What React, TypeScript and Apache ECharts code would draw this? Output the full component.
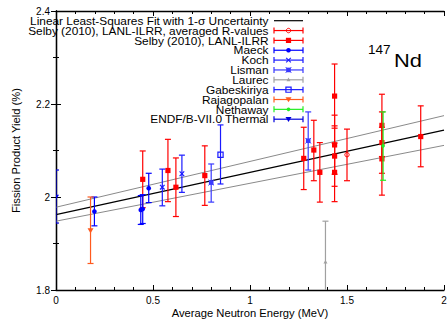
import React, { useEffect, useRef } from "react";
import * as echarts from "echarts";

// ---- data ----
const fitX = [0, 2];
const fitMid = [1.962, 2.144];
const fitUpper = [1.978, 2.175];
const fitLower = [1.948, 2.111];

// [energy, yield, low, high]
const selbyAvg = [[1.5, 2.091, 2.035, 2.146]];
const selby = [
  [0.447, 2.038, 1.977, 2.099],
  [0.577, 2.057, 1.99, 2.124],
  [0.618, 2.021, 1.958, 2.084],
  [0.767, 2.046, 1.982, 2.11],
  [1.277, 2.083, 2.016, 2.15],
  [1.329, 2.101, 2.035, 2.165],
  [1.36, 2.053, 1.989, 2.117],
  [1.436, 2.217, 2.148, 2.286],
  [1.436, 2.112, 2.049, 2.176],
  [1.436, 2.088, 2.023, 2.153],
  [1.436, 2.053, 1.99, 2.116],
  [1.68, 2.154, 2.087, 2.221],
  [1.68, 2.117, 2.051, 2.183],
  [1.68, 2.082, 2.004, 2.15],
  [1.88, 2.13, 2.065, 2.196],
];
const maeck = [
  [0.198, 1.969, 1.938, 2.0],
  [0.437, 1.972, 1.941, 2.003],
  [0.447, 1.974, 1.943, 2.005],
  [0.478, 2.019, 1.988, 2.051],
];
const koch = [
  [0.548, 2.021, 1.981, 2.06],
  [0.649, 2.05, 2.01, 2.09],
];
const lisman = [
  [0.8, 2.031, 1.989, 2.071],
  [1.3, 2.121, 2.058, 2.183],
];
const laurec = [[1.389, 1.86, 1.772, 1.948]];
const gabeskiriya = [[0.848, 2.091, 2.028, 2.155]];
const rajagopalan = [[0.178, 1.928, 1.857, 2.0]];
const nethaway = [[1.686, 2.11, 2.036, 2.183]];
const endf = [[0.0, 2.0, 1.944, 2.058]];

const xTicks = ["0", "0.5", "1", "1.5", "2"];
const yTicks = ["1.8", "2", "2.2", "2.4"];

const FONT = "Liberation Sans, Arial, sans-serif";

type Kind = "square" | "ocircle" | "circle" | "x" | "xsq" | "triUp" | "osq" | "triDown" | "dot" | "none";

const datasets: { name: string; data: number[][]; color: string; marker: Kind }[] = [
  { name: "Selby (2010), LANL-ILRR, averaged R-values", data: selbyAvg, color: "#ff0000", marker: "ocircle" },
  { name: "Selby (2010), LANL-ILRR", data: selby, color: "#ff0000", marker: "square" },
  { name: "Maeck", data: maeck, color: "#0000ff", marker: "circle" },
  { name: "Koch", data: koch, color: "#1a1aff", marker: "x" },
  { name: "Lisman", data: lisman, color: "#3a3aff", marker: "xsq" },
  { name: "Laurec", data: laurec, color: "#a0a0a0", marker: "triUp" },
  { name: "Gabeskiriya", data: gabeskiriya, color: "#1a1aff", marker: "osq" },
  { name: "Rajagopalan", data: rajagopalan, color: "#ff5a1e", marker: "triDown" },
  { name: "Nethaway", data: nethaway, color: "#22ee22", marker: "dot" },
  { name: "ENDF/B-VII.0 Thermal", data: endf, color: "#0000dd", marker: "triDown" },
];

function markerEls(kind: Kind, cx: number, cy: number, color: string): any[] {
  const s = 2.6;
  switch (kind) {
    case "square":
      return [{ type: "rect", shape: { x: cx - s, y: cy - s, width: 2 * s, height: 2 * s }, style: { fill: color } }];
    case "osq":
      return [{ type: "rect", shape: { x: cx - s, y: cy - s, width: 2 * s, height: 2 * s }, style: { fill: "none", stroke: color, lineWidth: 1.2 } }];
    case "circle":
      return [{ type: "circle", shape: { cx, cy, r: 2.3 }, style: { fill: color } }];
    case "dot":
      return [{ type: "circle", shape: { cx, cy, r: 1.8 }, style: { fill: color } }];
    case "ocircle":
      return [
        { type: "circle", shape: { cx, cy, r: 2.2 }, style: { fill: "none", stroke: color, lineWidth: 1 } },
      ];
    case "x":
      return [
        { type: "line", shape: { x1: cx - 2.3, y1: cy - 2.3, x2: cx + 2.3, y2: cy + 2.3 }, style: { stroke: color, lineWidth: 1.2 } },
        { type: "line", shape: { x1: cx - 2.3, y1: cy + 2.3, x2: cx + 2.3, y2: cy - 2.3 }, style: { stroke: color, lineWidth: 1.2 } },
      ];
    case "xsq":
      return [
        { type: "rect", shape: { x: cx - 2.3, y: cy - 2.3, width: 4.6, height: 4.6 }, style: { fill: color } },
        { type: "line", shape: { x1: cx - 2.8, y1: cy - 2.8, x2: cx + 2.8, y2: cy + 2.8 }, style: { stroke: color, lineWidth: 1 } },
        { type: "line", shape: { x1: cx - 2.8, y1: cy + 2.8, x2: cx + 2.8, y2: cy - 2.8 }, style: { stroke: color, lineWidth: 1 } },
      ];
    case "triUp":
      return [{ type: "polygon", shape: { points: [[cx, cy - 2.2], [cx - 2, cy + 1.5], [cx + 2, cy + 1.5]] }, style: { fill: color } }];
    case "triDown":
      return [{ type: "polygon", shape: { points: [[cx - 3, cy - 2.2], [cx + 3, cy - 2.2], [cx, cy + 2.8]] }, style: { fill: color } }];
    default:
      return [];
  }
}

function errRender(color: string, kind: Kind) {
  return (params: any, api: any) => {
    const x = api.value(0);
    const y = api.value(1);
    const lo = api.value(2);
    const hi = api.value(3);
    const p = api.coord([x, y]);
    const pl = api.coord([x, lo]);
    const ph = api.coord([x, hi]);
    const cs = params.coordSys;
    const top = cs.y;
    const bottom = cs.y + cs.height;
    const yl = Math.min(pl[1], bottom);
    const yh = Math.max(ph[1], top);
    const cap = 3;
    const ls = { stroke: color, lineWidth: 1.2 };
    const children: any[] = [
      { type: "line", shape: { x1: p[0], y1: yh, x2: p[0], y2: yl }, style: ls },
    ];
    if (ph[1] >= top) children.push({ type: "line", shape: { x1: p[0] - cap, y1: ph[1], x2: p[0] + cap, y2: ph[1] }, style: ls });
    if (pl[1] <= bottom) children.push({ type: "line", shape: { x1: p[0] - cap, y1: pl[1], x2: p[0] + cap, y2: pl[1] }, style: ls });
    children.push(...markerEls(kind, p[0], p[1], color));
    return { type: "group", children };
  };
}

export default function App() {
  const ref = useRef<HTMLDivElement>(null);
  useEffect(() => {
    if (!ref.current) return;
    const chart = echarts.init(ref.current, null, { renderer: "svg" });

    const axisLine = { show: true, lineStyle: { color: "#000", width: 1.3 } };
    const tick = { show: true, inside: true, length: 5, lineStyle: { color: "#000", width: 1 } };
    const minor = { show: true, length: 3, lineStyle: { color: "#000", width: 1 } };
    const labelStyle = { color: "#000", fontFamily: FONT, fontSize: 10 };

    const xFmt = (v: number) => xTicks[Math.round(v / 0.5)] ?? "";
    const yFmt = (v: number) => yTicks[Math.round((v - 1.8) / 0.2)] ?? "";

    // legend graphic
    const legendEls: any[] = [];
    const rowY0 = 20.7;
    const rowH = 9.85;
    const entries = [
      { name: "Linear Least-Squares Fit with 1-σ Uncertainty", color: "#000", marker: "none" as Kind, fit: true },
      ...datasets.map((d) => ({ name: d.name, color: d.color, marker: d.marker, fit: false })),
    ];
    entries.forEach((e, i) => {
      const cy = rowY0 + i * rowH;
      legendEls.push({
        type: "text",
        x: 268.5,
        y: cy + 0.5,
        scaleX: 1.14,
        style: { text: e.name, fill: "#000", font: `10.4px ${FONT}`, align: "right", verticalAlign: "middle" },
      });
      legendEls.push({ type: "line", shape: { x1: 274, y1: cy, x2: 303, y2: cy }, style: { stroke: e.color, lineWidth: 1.2 } });
      if (!e.fit) {
        legendEls.push({ type: "line", shape: { x1: 274, y1: cy - 3, x2: 274, y2: cy + 3 }, style: { stroke: e.color, lineWidth: 1.2 } });
        legendEls.push({ type: "line", shape: { x1: 303, y1: cy - 3, x2: 303, y2: cy + 3 }, style: { stroke: e.color, lineWidth: 1.2 } });
        legendEls.push(...markerEls(e.marker, 288.5, cy, e.color));
      }
    });

    const series: any[] = [
      {
        type: "line",
        data: fitX.map((x, i) => [x, fitUpper[i]]),
        showSymbol: false,
        lineStyle: { color: "#8a8a8a", width: 1 },
        silent: true,
        z: 1,
      },
      {
        type: "line",
        data: fitX.map((x, i) => [x, fitLower[i]]),
        showSymbol: false,
        lineStyle: { color: "#8a8a8a", width: 1 },
        silent: true,
        z: 1,
      },
      {
        type: "line",
        data: fitX.map((x, i) => [x, fitMid[i]]),
        showSymbol: false,
        lineStyle: { color: "#000", width: 1.2 },
        silent: true,
        z: 1,
      },
      ...datasets.map((d) => ({
        type: "custom",
        name: d.name,
        data: d.data,
        renderItem: errRender(d.color, d.marker),
        encode: { x: 0, y: 1 },
        clip: true,
        z: 2,
      })),
    ];

    chart.setOption({
      animation: false,
      grid: { left: 56, right: 4, top: 11, bottom: 30, outerBoundsMode: "none", containLabel: false },
      xAxis: [
        {
          type: "value",
          min: 0,
          max: 2,
          interval: 0.5,
          position: "bottom",
          axisLine,
          axisTick: tick,
          minorTick: { ...minor, splitNumber: 5 },
          splitLine: { show: false },
          axisLabel: { ...labelStyle, margin: 5, formatter: xFmt },
          name: "Average Neutron Energy (MeV)",
          nameLocation: "middle",
          nameGap: 17,
          nameMoveOverlap: false,
          nameTextStyle: { color: "#000", fontFamily: FONT, fontSize: 11.2 },
        },
        {
          type: "value",
          min: 0,
          max: 2,
          interval: 0.5,
          position: "top",
          axisLine,
          axisTick: tick,
          minorTick: { ...minor, splitNumber: 5 },
          splitLine: { show: false },
          axisLabel: { show: false },
        },
      ],
      yAxis: [
        {
          type: "value",
          min: 1.8,
          max: 2.4,
          interval: 0.2,
          position: "left",
          axisLine,
          axisTick: tick,
          minorTick: { ...minor, splitNumber: 2 },
          splitLine: { show: false },
          axisLabel: { ...labelStyle, margin: 6, formatter: yFmt },
          name: "Fission Product Yield (%)",
          nameLocation: "middle",
          nameGap: 35,
          nameMoveOverlap: false,
          nameTextStyle: { color: "#000", fontFamily: FONT, fontSize: 11.2 },
        },
        {
          type: "value",
          min: 1.8,
          max: 2.4,
          interval: 0.2,
          position: "right",
          axisLine,
          axisTick: tick,
          minorTick: { ...minor, splitNumber: 2 },
          splitLine: { show: false },
          axisLabel: { show: false },
        },
      ],
      series,
      graphic: [
        ...legendEls,
        {
          type: "text",
          x: 368,
          y: 49.7,
          style: { text: "147", fill: "#000", font: `13.5px ${FONT}`, verticalAlign: "middle" },
        },
        {
          type: "text",
          x: 394,
          y: 60.3,
          scaleX: 1.15,
          style: { text: "Nd", fill: "#000", font: `19px ${FONT}`, verticalAlign: "middle" },
        },
      ],
    });
    return () => chart.dispose();
  }, []);
  return <div ref={ref} style={{ position: "absolute", left: 0, top: 0, width: 448, height: 320 }} />;
}
